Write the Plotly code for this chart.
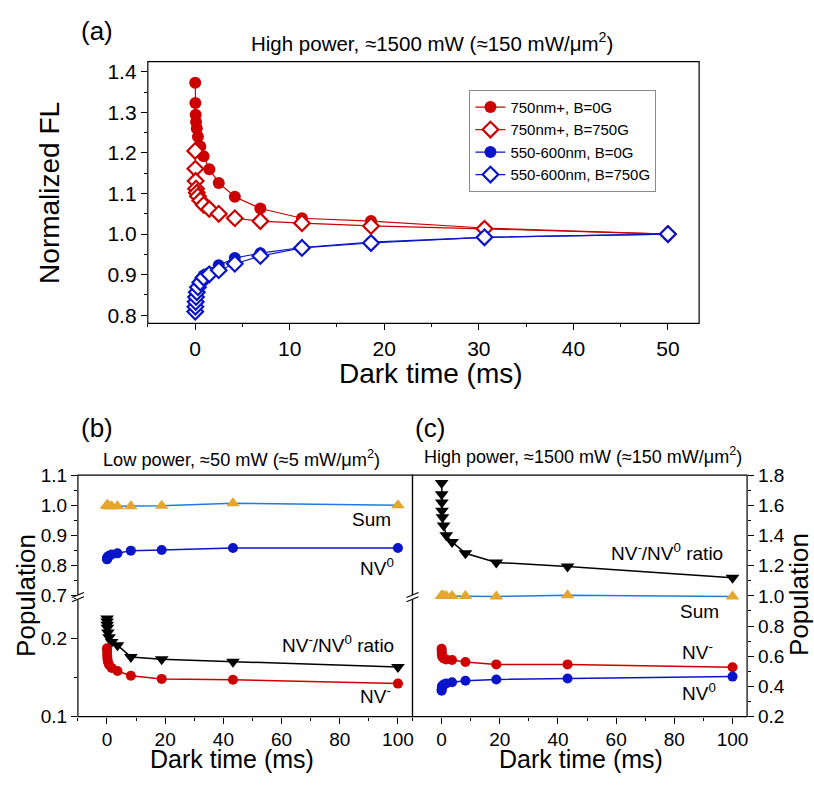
import plotly.graph_objects as go

# ---- Panel (a): normalized fluorescence vs dark time (high power) ----
t_a = [0.01, 0.03, 0.06, 0.1, 0.18, 0.3, 0.55, 0.9, 1.5, 2.5, 4.2, 6.9, 11.3, 18.6, 30.6, 50]
red_0G = [1.373, 1.323, 1.294, 1.276, 1.260, 1.240, 1.216, 1.192, 1.160, 1.126, 1.092, 1.063, 1.039, 1.032, 1.015, 1.0]
red_750G = [1.205, 1.161, 1.131, 1.112, 1.102, 1.093, 1.083, 1.072, 1.062, 1.050, 1.039, 1.032, 1.027, 1.020, 1.013, 1.0]
blue_0G = [0.817, 0.829, 0.841, 0.853, 0.865, 0.877, 0.887, 0.898, 0.905, 0.923, 0.941, 0.953, 0.967, 0.980, 0.992, 1.0]
blue_750G = [0.809, 0.821, 0.833, 0.845, 0.857, 0.869, 0.881, 0.893, 0.901, 0.911, 0.927, 0.946, 0.966, 0.978, 0.992, 1.0]
legend_names = ["750nm+, B=0G", "750nm+, B=750G", "550-600nm, B=0G", "550-600nm, B=750G"]

# ---- Panels (b) and (c): charge-state populations vs dark time ----
t_bc = [0.01, 0.03, 0.07, 0.15, 0.3, 0.7, 1.6, 3.6, 8.2, 18.8, 43.3, 100]
# (b) low power
sum_b = [1.0, 1.0, 1.0, 0.999, 0.998, 0.997, 0.997, 0.997, 0.997, 0.998, 1.007, 1.0]
nv0_b = [0.820, 0.822, 0.824, 0.826, 0.829, 0.832, 0.836, 0.840, 0.849, 0.851, 0.858, 0.858]
ratio_b = [0.225, 0.221, 0.217, 0.213, 0.207, 0.201, 0.195, 0.191, 0.176, 0.173, 0.170, 0.163]
nvm_b = [0.187, 0.183, 0.178, 0.174, 0.170, 0.166, 0.162, 0.158, 0.152, 0.148, 0.147, 0.142]
# (c) high power
ratio_c = [1.749, 1.674, 1.619, 1.565, 1.521, 1.467, 1.402, 1.358, 1.283, 1.222, 1.195, 1.120]
sum_c = [1.0, 1.0, 1.0, 1.0, 1.0, 1.0, 1.0, 1.0, 1.0, 0.996, 1.004, 0.996]
nvm_c = [0.650, 0.635, 0.620, 0.605, 0.595, 0.585, 0.578, 0.575, 0.562, 0.546, 0.546, 0.527]
nv0_c = [0.371, 0.380, 0.390, 0.400, 0.405, 0.412, 0.420, 0.428, 0.437, 0.446, 0.453, 0.465]

RED = "#CC0000"
BLUE = "#0A14C8"
SUMLINE = "#1E7BE0"
GOLD = "#E6A62E"
FONT = "Liberation Sans, Arial, sans-serif"

W, H = 814, 785


def px(x):
    return x / W


def py(y):
    return 1 - y / H


fig = go.Figure()

# panel (a) traces
fig.add_trace(go.Scatter(x=t_a, y=red_0G, name=legend_names[0], mode="lines+markers",
                         line=dict(color=RED, width=1.2),
                         marker=dict(symbol="circle", size=12, color=RED),
                         xaxis="x", yaxis="y"))
fig.add_trace(go.Scatter(x=t_a, y=red_750G, name=legend_names[1], mode="lines+markers",
                         line=dict(color=RED, width=1.2),
                         marker=dict(symbol="diamond", size=12, color="white", line=dict(width=2.2, color=RED)),
                         xaxis="x", yaxis="y"))
fig.add_trace(go.Scatter(x=t_a, y=blue_0G, name=legend_names[2], mode="lines+markers",
                         line=dict(color=BLUE, width=1.2),
                         marker=dict(symbol="circle", size=12, color=BLUE),
                         xaxis="x", yaxis="y"))
fig.add_trace(go.Scatter(x=t_a, y=blue_750G, name=legend_names[3], mode="lines+markers",
                         line=dict(color=BLUE, width=1.2),
                         marker=dict(symbol="diamond", size=12, color="white", line=dict(width=2.2, color=BLUE)),
                         xaxis="x", yaxis="y"))

# panel (b) traces: upper segment (y3) and lower segment (y4)
fig.add_trace(go.Scatter(x=t_bc, y=sum_b, mode="lines+markers", showlegend=False,
                         line=dict(color=SUMLINE, width=1.5),
                         marker=dict(symbol="triangle-up", size=12, color=GOLD),
                         xaxis="x3", yaxis="y3"))
fig.add_trace(go.Scatter(x=t_bc, y=nv0_b, mode="lines+markers", showlegend=False,
                         line=dict(color=BLUE, width=1.5),
                         marker=dict(symbol="circle", size=10, color=BLUE),
                         xaxis="x3", yaxis="y3"))
fig.add_trace(go.Scatter(x=t_bc, y=ratio_b, mode="lines+markers", showlegend=False,
                         line=dict(color="black", width=1.5),
                         marker=dict(symbol="triangle-down", size=12, color="black"),
                         xaxis="x3", yaxis="y4"))
fig.add_trace(go.Scatter(x=t_bc, y=nvm_b, mode="lines+markers", showlegend=False,
                         line=dict(color=RED, width=1.5),
                         marker=dict(symbol="circle", size=10, color=RED),
                         xaxis="x3", yaxis="y4"))

# panel (c) traces
fig.add_trace(go.Scatter(x=t_bc, y=ratio_c, mode="lines+markers", showlegend=False,
                         line=dict(color="black", width=1.5),
                         marker=dict(symbol="triangle-down", size=12, color="black"),
                         xaxis="x5", yaxis="y5"))
fig.add_trace(go.Scatter(x=t_bc, y=sum_c, mode="lines+markers", showlegend=False,
                         line=dict(color=SUMLINE, width=1.5),
                         marker=dict(symbol="triangle-up", size=12, color=GOLD),
                         xaxis="x5", yaxis="y5"))
fig.add_trace(go.Scatter(x=t_bc, y=nvm_c, mode="lines+markers", showlegend=False,
                         line=dict(color=RED, width=1.5),
                         marker=dict(symbol="circle", size=10, color=RED),
                         xaxis="x5", yaxis="y5"))
fig.add_trace(go.Scatter(x=t_bc, y=nv0_c, mode="lines+markers", showlegend=False,
                         line=dict(color=BLUE, width=1.5),
                         marker=dict(symbol="circle", size=10, color=BLUE),
                         xaxis="x5", yaxis="y5"))

# panel geometry (pixels)
A = dict(l=148, r=700, t=53, b=322)
B = dict(l=78, r=413, t=478, b=726)
C = dict(l=413, r=748, t=478, b=726)
B_SPLIT_HI = 601.5   # bottom of the upper segment in (b)
B_SPLIT_LO = 605.0   # top of the lower segment in (b)

common = dict(showgrid=False, zeroline=False, showline=False, tickcolor="black",
              tickwidth=1, ticklen=6, color="black")

fig.update_layout(
    width=W, height=H,
    margin=dict(l=0, r=0, t=0, b=0),
    paper_bgcolor="white", plot_bgcolor="white",
    font=dict(family=FONT, color="black"),
    showlegend=True,
    legend=dict(x=px(470), y=py(82), xanchor="left", yanchor="top",
                bgcolor="white", bordercolor="#8a8a8a", borderwidth=1,
                font=dict(size=15, family=FONT), tracegroupgap=0,
                itemsizing="trace"),
    # panel (a)
    xaxis=dict(domain=[px(A["l"]), px(A["r"])], range=[-5, 53.3], anchor="y",
               tickmode="linear", tick0=0, dtick=10, ticks="outside",
               minor=dict(tick0=0, dtick=5, ticks="outside", ticklen=3, tickcolor="black"),
               tickfont=dict(size=21), **common),
    yaxis=dict(domain=[py(A["b"]), py(A["t"])], range=[0.78, 1.425], anchor="x",
               tickmode="linear", tick0=0.8, dtick=0.1, tickformat=".1f", ticks="outside",
               minor=dict(tick0=0.8, dtick=0.05, ticks="outside", ticklen=3, tickcolor="black"),
               tickfont=dict(size=21), **common),
    xaxis2=dict(overlaying="x", anchor="free", position=py(A["t"]), side="top",
                range=[-5, 53.3], tickmode="linear", tick0=0, dtick=10, ticks="inside",
                showticklabels=False,
                minor=dict(tick0=0, dtick=5, ticks="inside", ticklen=3, tickcolor="black"),
                **common),
    yaxis2=dict(overlaying="y", anchor="free", position=px(A["r"]), side="right",
                range=[0.78, 1.425], tickmode="linear", tick0=0.8, dtick=0.1, ticks="inside",
                showticklabels=False,
                minor=dict(tick0=0.8, dtick=0.05, ticks="inside", ticklen=3, tickcolor="black"),
                **common),
    # panel (b)
    xaxis3=dict(domain=[px(B["l"]), px(B["r"])], range=[-10, 105], anchor="y4",
                tickmode="linear", tick0=0, dtick=20, ticks="outside",
                minor=dict(tick0=0, dtick=10, ticks="outside", ticklen=3, tickcolor="black"),
                tickfont=dict(size=19), **common),
    yaxis3=dict(domain=[py(B_SPLIT_HI), py(B["t"])], range=[0.7, 1.1], anchor="x3",
                tickmode="linear", tick0=0.7, dtick=0.1, tickformat=".1f", ticks="outside",
                minor=dict(tick0=0.7, dtick=0.05, ticks="outside", ticklen=3, tickcolor="black"),
                tickfont=dict(size=19), **common),
    yaxis4=dict(domain=[py(B["b"]), py(B_SPLIT_LO)], range=[0.1, 0.25], anchor="x3",
                tickmode="array", tickvals=[0.1, 0.2], ticktext=["0.1", "0.2"], ticks="outside",
                minor=dict(tick0=0.1, dtick=0.05, ticks="outside", ticklen=3, tickcolor="black"),
                tickfont=dict(size=19), **common),
    xaxis4=dict(overlaying="x3", anchor="free", position=py(B["t"]), side="top",
                range=[-10, 105], tickmode="linear", tick0=0, dtick=20, ticks="inside",
                showticklabels=False,
                minor=dict(tick0=0, dtick=10, ticks="inside", ticklen=3, tickcolor="black"),
                **common),
    # panel (c)
    xaxis5=dict(domain=[px(C["l"]), px(C["r"])], range=[-10, 105], anchor="y5",
                tickmode="linear", tick0=0, dtick=20, ticks="outside",
                minor=dict(tick0=0, dtick=10, ticks="outside", ticklen=3, tickcolor="black"),
                tickfont=dict(size=19), **common),
    yaxis5=dict(domain=[py(C["b"]), py(C["t"])], range=[0.2, 1.8], anchor="x5", side="right",
                tickmode="linear", tick0=0.2, dtick=0.2, tickformat=".1f", ticks="outside",
                minor=dict(tick0=0.2, dtick=0.1, ticks="outside", ticklen=3, tickcolor="black"),
                tickfont=dict(size=19), **common),
    xaxis6=dict(overlaying="x5", anchor="free", position=py(C["t"]), side="top",
                range=[-10, 105], tickmode="linear", tick0=0, dtick=20, ticks="inside",
                showticklabels=False,
                minor=dict(tick0=0, dtick=10, ticks="inside", ticklen=3, tickcolor="black"),
                **common),
)

shapes = []


def frame(p):
    shapes.append(dict(type="rect", xref="paper", yref="paper",
                       x0=px(p["l"]), x1=px(p["r"]), y0=py(p["b"]), y1=py(p["t"]),
                       line=dict(color="black", width=1.2), fillcolor="rgba(0,0,0,0)",
                       layer="above"))


frame(A)
frame(B)
frame(C)


def axis_break(x, y):
    # white gap in the axis line plus two slanted strokes
    shapes.append(dict(type="rect", xref="paper", yref="paper",
                       x0=px(x - 2), x1=px(x + 2), y0=py(y + 2.2), y1=py(y - 2.2),
                       line=dict(width=0), fillcolor="white", layer="above"))
    for dy in (-2.2, 2.2):
        shapes.append(dict(type="line", xref="paper", yref="paper",
                           x0=px(x - 6), y0=py(y + dy + 2.5), x1=px(x + 6), y1=py(y + dy - 2.5),
                           line=dict(color="black", width=1.1), layer="above"))


mid = (B_SPLIT_HI + B_SPLIT_LO) / 2
axis_break(B["l"], mid)
axis_break(B["r"], mid)

fig.update_layout(shapes=shapes)

ann = []


def label(text, x, y, size, xanchor="center", angle=0, yanchor="middle"):
    ann.append(dict(text=text, x=px(x), y=py(y), xref="paper", yref="paper",
                    xanchor=xanchor, yanchor=yanchor, showarrow=False, textangle=angle,
                    font=dict(size=size, family=FONT, color="black")))


label("(a)", 97, 22, 26)
label("High power, ≈1500 mW (≈150 mW/μm<sup>2</sup>)", 433, 33, 20.5)
label("Normalized FL", 50, 188, 28, angle=-90)
label("Dark time (ms)", 432, 373, 28)

label("(b)", 97, 430, 26)
label("(c)", 431, 430, 26)
label("Low power, ≈50 mW (≈5 mW/μm<sup>2</sup>)", 242, 460, 18.2)
label("High power, ≈1500 mW (≈150 mW/μm<sup>2</sup>)", 584, 458, 18)
label("Population", 26, 601, 26, angle=-90)
label("Population", 800, 601, 26, angle=-90)
label("Dark time (ms)", 232, 770, 25)
label("Dark time (ms)", 582, 770, 25)

label("Sum", 393, 523, 19, xanchor="right")
label("NV<sup>0</sup>", 396, 572, 19, xanchor="right")
label("NV<sup>-</sup>/NV<sup>0</sup> ratio", 396, 651, 19, xanchor="right")
label("NV<sup>-</sup>", 393, 704, 19, xanchor="right")

label("NV<sup>-</sup>/NV<sup>0</sup> ratio", 726, 557, 19, xanchor="right")
label("Sum", 722, 618, 19, xanchor="right")
label("NV<sup>-</sup>", 716, 659, 19, xanchor="right")
label("NV<sup>0</sup>", 719, 701, 19, xanchor="right")

fig.update_layout(annotations=ann)

fig.write_html("out.html")
